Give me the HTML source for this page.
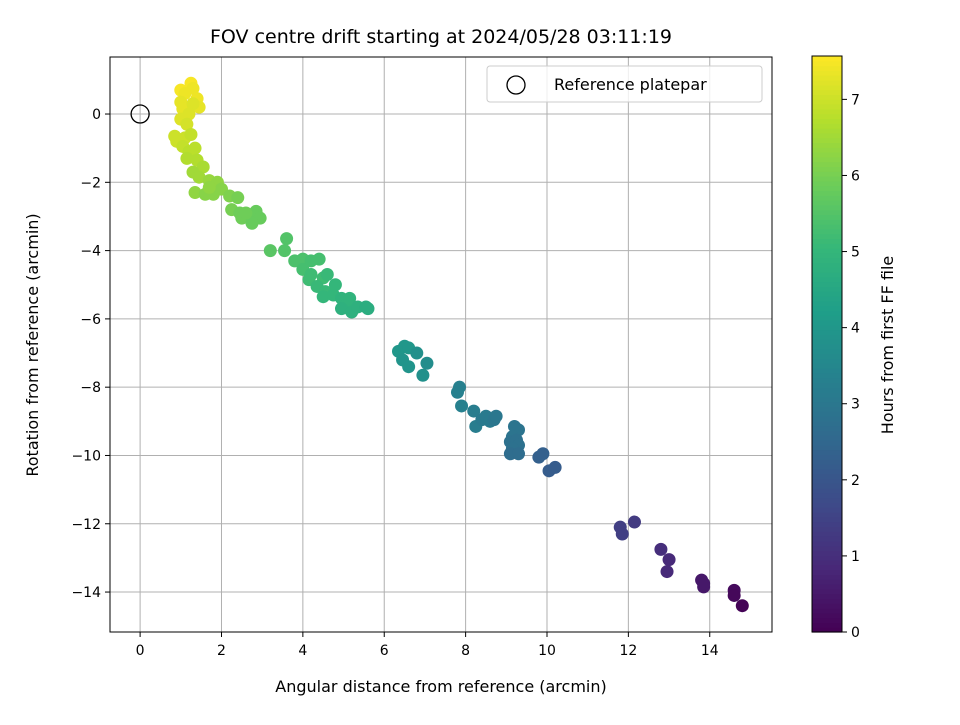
<!DOCTYPE html>
<html><head><meta charset="utf-8"><style>
body{margin:0;background:#fff;}
svg text{font-family:"DejaVu Sans","Liberation Sans",sans-serif;fill:#000;}
</style></head><body>
<svg id="c" width="960" height="720" xmlns="http://www.w3.org/2000/svg">
<rect width="960" height="720" fill="#fff"/>
<text x="441" y="43" font-size="19" text-anchor="middle">FOV centre drift starting at 2024/05/28 03:11:19</text>
<text x="441" y="692" font-size="16" text-anchor="middle">Angular distance from reference (arcmin)</text>
<text transform="translate(38,345) rotate(-90)" font-size="16" text-anchor="middle">Rotation from reference (arcmin)</text>
<text transform="translate(893,345) rotate(-90)" font-size="16" text-anchor="middle">Hours from first FF file</text>
<g id="grid"></g><g id="pts"></g><g id="axes"></g><g id="cbar"></g>
</svg>
<script>
const xs=[1.0,1.25,1.3,1.1,1.4,1.45,1.0,1.05,1.3,1.2,1.0,1.15,0.85,0.9,1.1,1.25,1.05,1.2,1.35,1.15,1.4,1.55,1.3,1.45,1.7,1.9,1.35,1.6,1.8,2.0,1.7,2.2,2.4,2.25,2.45,2.5,2.7,2.85,2.95,2.75,2.6,3.2,3.6,3.55,3.8,4.0,4.2,4.4,4.0,4.2,4.15,4.5,4.6,4.35,4.55,4.5,4.8,4.75,4.95,5.05,4.95,5.2,5.15,5.35,5.55,5.6,6.35,6.5,6.6,6.45,6.6,6.8,6.95,7.05,7.85,7.8,7.9,8.2,8.25,8.4,8.5,8.6,8.7,8.75,9.2,9.3,9.15,9.1,9.25,9.3,9.15,9.1,9.3,9.8,9.9,10.05,10.2,11.8,11.85,12.15,12.8,13.0,12.95,13.8,13.85,13.85,14.6,14.6,14.8];
const ys=[0.7,0.9,0.75,0.6,0.45,0.2,0.35,0.15,0.3,0.0,-0.15,-0.3,-0.65,-0.8,-0.7,-0.6,-0.95,-1.1,-1.0,-1.3,-1.35,-1.55,-1.7,-1.85,-1.95,-2.0,-2.3,-2.35,-2.35,-2.2,-2.15,-2.4,-2.45,-2.8,-2.9,-3.05,-2.95,-2.85,-3.05,-3.2,-2.9,-4.0,-3.65,-4.0,-4.3,-4.25,-4.3,-4.25,-4.55,-4.7,-4.85,-4.8,-4.7,-5.05,-5.2,-5.35,-5.0,-5.3,-5.4,-5.6,-5.7,-5.8,-5.4,-5.65,-5.65,-5.7,-6.95,-6.8,-6.85,-7.2,-7.4,-7.0,-7.65,-7.3,-8.0,-8.15,-8.55,-8.7,-9.15,-8.95,-8.85,-9.0,-8.95,-8.85,-9.15,-9.25,-9.45,-9.6,-9.55,-9.7,-9.8,-9.95,-9.95,-10.05,-9.95,-10.45,-10.35,-12.1,-12.3,-11.95,-12.75,-13.05,-13.4,-13.65,-13.85,-13.75,-13.95,-14.1,-14.4];
const hrs=[7.5,7.5,7.4,7.4,7.4,7.3,7.3,7.3,7.2,7.2,7.2,7.1,7.0,7.0,7.0,6.9,6.9,6.8,6.8,6.7,6.7,6.6,6.5,6.5,6.4,6.3,6.3,6.2,6.2,6.2,6.3,6.1,6.0,6.0,5.9,5.9,5.8,5.8,5.8,5.8,5.9,5.6,5.5,5.5,5.4,5.4,5.3,5.3,5.3,5.2,5.2,5.2,5.1,5.1,5.1,5.0,5.0,5.0,4.9,4.9,4.8,4.8,4.9,4.8,4.7,4.7,4.0,4.0,4.0,3.9,3.9,3.8,3.8,3.7,3.3,3.3,3.3,3.2,3.2,3.1,3.1,3.1,3.0,3.0,2.9,2.9,2.9,2.8,2.8,2.8,2.8,2.7,2.7,2.3,2.3,2.2,2.2,1.4,1.4,1.3,1.0,0.9,0.9,0.5,0.5,0.5,0.2,0.15,0.05];
const xTicks=[0,2,4,6,8,10,12,14];
const yTicks=[0,-2,-4,-6,-8,-10,-12,-14];
const cTicks=[0,1,2,3,4,5,6,7];
const L=110,R=772,T=57,B=632;
const xMin=-0.74,xMax=15.53,yMin=-15.17,yMax=1.67,cMax=7.57;
const X=v=>L+(v-xMin)/(xMax-xMin)*(R-L);
const Y=v=>B-(v-yMin)/(yMax-yMin)*(B-T);
const VS=[[68,1,84],[72,40,120],[62,74,137],[49,104,142],[38,130,142],[31,158,137],[53,183,121],[109,205,89],[180,222,44],[253,231,37]];
function vir(t){t=Math.max(0,Math.min(1,t));const p=t*9,i=Math.min(8,Math.floor(p)),f=p-i;const a=VS[i],b=VS[i+1];return `rgb(${a.map((v,k)=>Math.round(v+(b[k]-v)*f)).join(',')})`;}
const NS="http://www.w3.org/2000/svg";
function mk(tag,at,par){const e=document.createElementNS(NS,tag);for(const k in at)e.setAttribute(k,at[k]);document.getElementById(par).appendChild(e);return e;}
xTicks.forEach(v=>{const g=mk('line',{x1:X(v),x2:X(v),y1:T,y2:B,stroke:'#b0b0b0','stroke-width':1},'grid');


const tk=mk('line',{x1:X(v),x2:X(v),y1:B,y2:B+5,stroke:'#000'},'axes');


const t=mk('text',{x:X(v),y:B+23,'font-size':14,'text-anchor':'middle'},'axes');t.textContent=v;

});
yTicks.forEach(v=>{const g=mk('line',{x1:L,x2:R,y1:Y(v),y2:Y(v),stroke:'#b0b0b0','stroke-width':1},'grid');


const tk=mk('line',{x1:L-5,x2:L,y1:Y(v),y2:Y(v),stroke:'#000'},'axes');


const t=mk('text',{x:L-9,y:Y(v)+5,'font-size':14,'text-anchor':'end'},'axes');t.textContent=v===0?'0':'\u2212'+Math.abs(v);

});
xs.forEach((x,i)=>{const c=mk('circle',{cx:X(x),cy:Y(ys[i]),r:6.5,fill:vir(hrs[i]/cMax)},'pts');

});
const ref=mk('circle',{cx:X(0),cy:Y(0),r:9,fill:'none',stroke:'#000','stroke-width':1.3},'pts');


const fr=mk('rect',{x:L,y:T,width:R-L,height:B-T,fill:'none',stroke:'#000','stroke-width':1},'axes');


// legend
const lg=mk('rect',{x:487,y:66,width:275,height:36,rx:3,fill:'#fff','fill-opacity':0.8,stroke:'#ccc'},'axes');


const lc=mk('circle',{cx:516,cy:85,r:9,fill:'none',stroke:'#000','stroke-width':1.3},'axes');


const lt=mk('text',{x:554,y:90,'font-size':16},'axes');lt.textContent='Reference platepar';


// colorbar
const CL=812,CR=842,CT=56,CB=632;
for(let i=0;i<120;i++){const y0=CB-(i+1)*(CB-CT)/120;const r=mk('rect',{x:CL,y:y0,width:CR-CL,height:(CB-CT)/120+0.6,fill:vir((i+0.5)/120)},'cbar');

}
const cf=mk('rect',{x:CL,y:CT,width:CR-CL,height:CB-CT,fill:'none',stroke:'#000'},'cbar');


cTicks.forEach(v=>{const y=CB-v/cMax*(CB-CT);const tk=mk('line',{x1:CR,x2:CR+5,y1:y,y2:y,stroke:'#000'},'cbar');


const t=mk('text',{x:CR+9,y:y+5,'font-size':14},'cbar');t.textContent=v;

});
</script>
</body></html>
